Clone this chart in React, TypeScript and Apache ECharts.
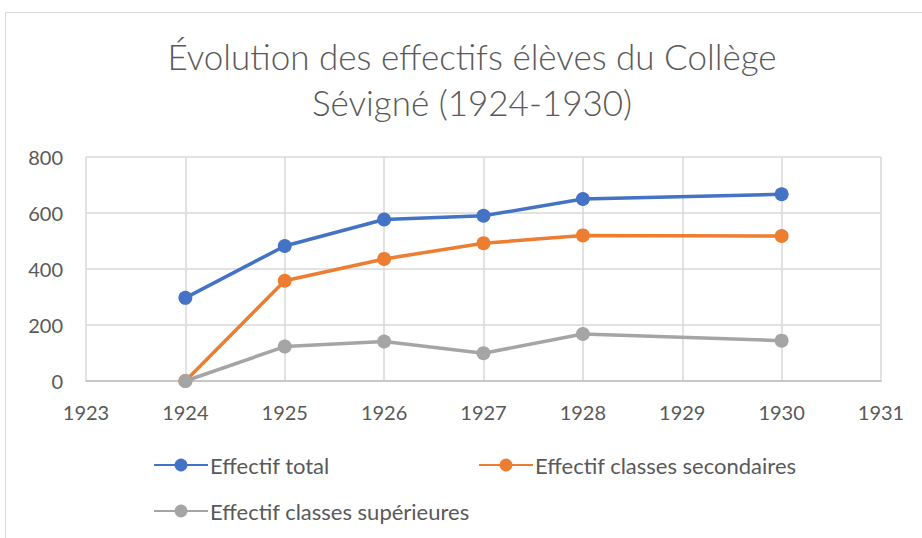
import React, { useEffect, useRef } from "react";
import * as echarts from "echarts";

const years = [1924, 1925, 1926, 1927, 1928, 1930];
const totalValues = [297, 482, 577, 590, 650, 667];
const secondaryValues = [0, 358, 436, 492, 520, 518];
const superiorValues = [0, 123, 141, 99, 168, 144];
const seriesNames = ["Effectif total", "Effectif classes secondaires", "Effectif classes supérieures"];
const colors = ["#4472C4", "#ED7D31", "#A5A5A5"];
const titleText = "Évolution des effectifs élèves du Collège\nSévigné (1924-1930)";

export default function App() {
  const ref = useRef<HTMLDivElement>(null);
  useEffect(() => {
    if (!ref.current) return;
    const chart = echarts.init(ref.current, null, { renderer: "svg" });
    const font = "Lato, 'Open Sans', sans-serif";
    const mk = (name: string, vals: number[], color: string) => ({
      type: "line",
      name,
      data: years.map((y, i) => [y, vals[i]]),
      symbol: "circle",
      symbolSize: 14,
      lineStyle: { width: 3.5, color },
      itemStyle: { color },
      color,
    });
    const legendCommon = {
      itemWidth: 54,
      itemHeight: 16,
      textStyle: { fontFamily: font, fontSize: 22, color: "#595959", padding: [0, 0, 0, -3] },
      padding: 0,
      selectedMode: false,
    };
    chart.setOption({
      animation: false,
      textStyle: { fontFamily: font },
      graphic: [
        {
          type: "rect",
          shape: { x: 5.5, y: 12.5, width: 960, height: 560 },
          style: { fill: "none", stroke: "#D9D9D9", lineWidth: 1 },
          silent: true,
        },
        {
          type: "text",
          x: 472,
          y: 79,
          style: {
            text: titleText,
            fontFamily: font,
            fontSize: 35,
            fontWeight: 300,
            fill: "#595959",
            align: "center",
            verticalAlign: "middle",
            lineHeight: 46,
          },
        },
      ],
      grid: { left: 86, right: 41, top: 157, bottom: 157, containLabel: false },
      xAxis: {
        type: "value",
        min: 1923,
        max: 1931,
        interval: 1,
        axisLine: { show: true, lineStyle: { color: "#BFBFBF", width: 1.5 } },
        axisTick: { show: false },
        splitLine: { show: true, lineStyle: { color: "#D9D9D9", width: 1.5 } },
        axisLabel: {
          fontFamily: font,
          fontSize: 20,
          color: "#595959",
          margin: 21,
          formatter: (v: number) => String(v),
        },
      },
      yAxis: {
        type: "value",
        min: 0,
        max: 800,
        interval: 200,
        axisLine: { show: false },
        axisTick: { show: false },
        splitLine: { show: true, lineStyle: { color: "#D9D9D9", width: 1.5 } },
        axisLabel: { fontFamily: font, fontSize: 20, color: "#595959", margin: 23 },
      },
      legend: [
        { ...legendCommon, data: [seriesNames[0]], left: 153, top: 454 },
        { ...legendCommon, data: [seriesNames[1]], left: 478, top: 454 },
        { ...legendCommon, data: [seriesNames[2]], left: 153, top: 500 },
      ],
      series: [
        mk(seriesNames[0], totalValues, colors[0]),
        mk(seriesNames[1], secondaryValues, colors[1]),
        mk(seriesNames[2], superiorValues, colors[2]),
      ],
    });
    return () => chart.dispose();
  }, []);
  return (
    <div
      ref={ref}
      style={{ position: "fixed", left: 0, top: 0, width: 922, height: 538, background: "#fff" }}
    />
  );
}
